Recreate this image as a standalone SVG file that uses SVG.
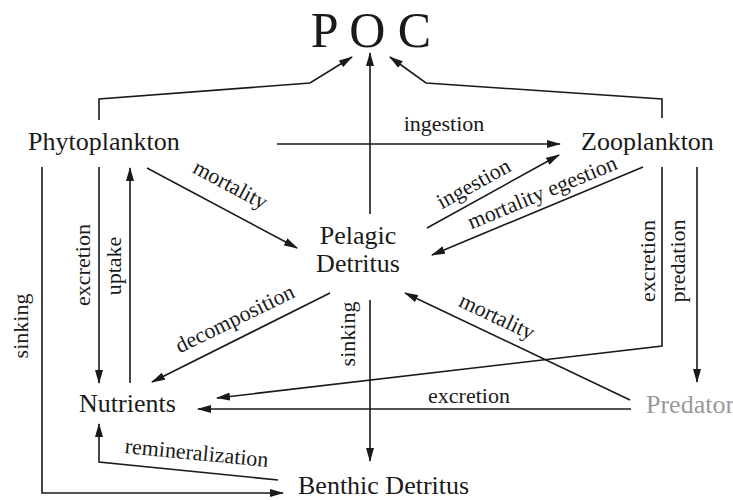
<svg xmlns="http://www.w3.org/2000/svg" width="733" height="500" viewBox="0 0 733 500">
<defs>
<marker id="ah" markerUnits="userSpaceOnUse" markerWidth="14" markerHeight="8" refX="13" refY="4" orient="auto">
<path d="M0,0 L14,4 L0,8 z" fill="#1a1a1a"/>
</marker>
<style>
.c{fill:none;stroke:#1a1a1a;stroke-width:1.6}
.a{marker-end:url(#ah)}
.n{font-size:26px;fill:#1a1a1a}
.l{font-size:22px;fill:#1a1a1a;text-anchor:middle}
</style>
</defs>
<rect width="733" height="500" fill="#fff"/>
<g id="connectors">
<path class="c a" d="M99,120 V99 L310,83 L352,57"/>
<path class="c a" d="M662,118 V99 L426,83 L390,57"/>
<path class="c a" d="M370,214 V53"/>
<path class="c a" d="M277,144 H560"/>
<path class="c a" d="M147,168 L297,248"/>
<path class="c a" d="M427,228 L559,155"/>
<path class="c a" d="M643,167 L432,255"/>
<path class="c a" d="M330,293 L152,382"/>
<path class="c a" d="M370,300 V461"/>
<path class="c a" d="M99,167 V383"/>
<path class="c a" d="M130,383 V168"/>
<path class="c a" d="M42,167 V493 H283"/>
<path class="c a" d="M662,167 V346 L217,398"/>
<path class="c a" d="M697,167 V382"/>
<path class="c a" d="M630,400 L405,293"/>
<path class="c a" d="M631,409 H198"/>
<path class="c a" d="M278,480 L99,462 V424"/>
</g>
<g font-family="Liberation Serif, Times New Roman, Times, DejaVu Serif, serif">
<g id="labels">
<text class="l" x="444" y="131">ingestion</text>
<text class="l" transform="translate(227,191) rotate(28)">mortality</text>
<text class="l" transform="translate(477,190) rotate(-29)">ingestion</text>
<text class="l" transform="translate(545,199) rotate(-22.5)">mortality egestion</text>
<text class="l" transform="translate(238,325) rotate(-26)">decomposition</text>
<text class="l" transform="translate(494,323) rotate(25.4)">mortality</text>
<text class="l" transform="translate(196,460) rotate(5.6)">remineralization</text>
<text class="l" x="469" y="403">excretion</text>
<text class="l" transform="translate(28,326) rotate(-90)">sinking</text>
<text class="l" transform="translate(90,265) rotate(-90)">excretion</text>
<text class="l" transform="translate(121,266) rotate(-90)">uptake</text>
<text class="l" transform="translate(355,334) rotate(-90)">sinking</text>
<text class="l" transform="translate(655,261) rotate(-90)">excretion</text>
<text class="l" transform="translate(685,261) rotate(-90)">predation</text>
</g>
<g id="poc"><text class="n" x="371" y="47" font-size="50" style="font-size:50px;text-anchor:middle">P O C</text></g>
<g id="phytoplankton"><text class="n" x="28" y="150">Phytoplankton</text></g>
<g id="zooplankton"><text class="n" x="581" y="150">Zooplankton</text></g>
<g id="pelagic-detritus"><text class="n" x="358" y="244" text-anchor="middle">Pelagic</text><text class="n" x="358" y="272" text-anchor="middle">Detritus</text></g>
<g id="nutrients"><text class="n" x="79" y="412">Nutrients</text></g>
<g id="predator"><text class="n" x="646" y="413" style="fill:#999">Predator</text></g>
<g id="benthic-detritus"><text class="n" x="298" y="494">Benthic Detritus</text></g>
</g>
</svg>
